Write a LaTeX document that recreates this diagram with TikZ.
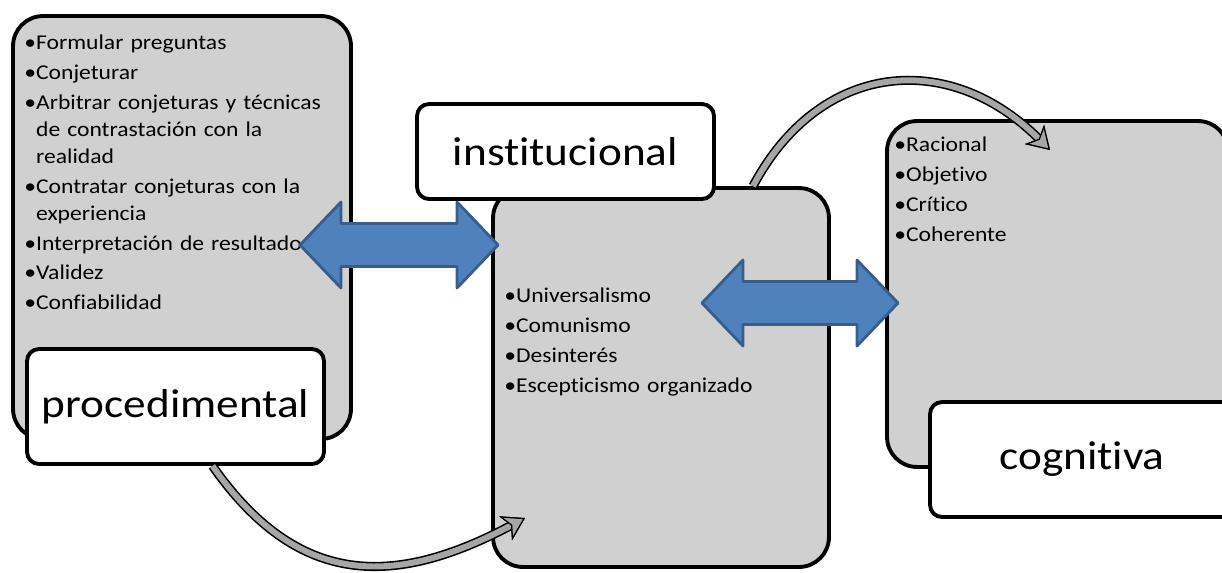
\documentclass[tikz,border=0pt]{standalone}
\usepackage{fontspec}
\setmainfont{Carlito}[FakeStretch=1.12, Ligatures=NoCommon]
\usetikzlibrary{arrows.meta,calc}
\definecolor{boxgray}{HTML}{D0D0D0}
\definecolor{arrowblue}{HTML}{4F81BD}
\definecolor{arrowedge}{HTML}{385D8A}
\definecolor{curvegray}{HTML}{A6A6A6}
\setlength{\parindent}{0pt}

% two-headed block arrow between two named points (same height)
\newcommand{\dblarrow}[2]{%
  \draw[dblarr] let \p1=(#1), \p2=(#2) in
    (\x1,\y1) -- (\x1+0.82cm,\y1+0.86cm) -- (\x1+0.82cm,\y1+0.43cm)
    -- (\x2-0.82cm,\y1+0.43cm) -- (\x2-0.82cm,\y1+0.86cm) -- (\x2,\y1)
    -- (\x2-0.82cm,\y1-0.86cm) -- (\x2-0.82cm,\y1-0.43cm)
    -- (\x1+0.82cm,\y1-0.43cm) -- (\x1+0.82cm,\y1-0.86cm) -- cycle;}

\begin{document}
\begin{tikzpicture}[x=0.02cm, y=-0.02cm,
  graybox/.style={rectangle, draw, line width=2.2pt, rounded corners=0.6cm, fill=boxgray},
  labelbox/.style={rectangle, draw, line width=2.2pt, rounded corners=0.24cm, fill=white, font=\fontsize{23}{27}\selectfont},
  listtxt/.style={anchor=north west, inner sep=0pt, text width=7cm, align=left, font=\fontsize{12}{15.3}\selectfont},
  curvarr/.style={draw=curvegray, line width=3.4pt, preaction={draw=black, line width=5.2pt},
    -{Stealth[length=12.5pt, width=15.5pt, inset=3.5pt, fill=curvegray, color=black, line width=0.7pt]}},
  dblarr/.style={draw=arrowedge, fill=arrowblue, line width=1.6pt, line join=round}
]
  \useasboundingbox (0,0) rectangle (1222,572);
  \clip (0,0) rectangle (1222,572);

  % big grey panels
  \node[graybox, minimum width=6.76cm, minimum height=8.46cm] (procpanel) at (182,227.5) {};
  \node[graybox, minimum width=6.82cm, minimum height=6.92cm] (cogpanel) at (1057.5,294) {};
  \node[graybox, minimum width=6.72cm, minimum height=7.58cm] (instpanel) at (661,377.5) {};
  \node[labelbox, minimum width=5.94cm, minimum height=1.9cm] (inst) at (565.5,151.5) {institucional};

  % lists
  \node[listtxt] (proclist) at (24,35) {%
    •Formular preguntas\\[1.7pt]
    •Conjeturar\\[1.7pt]
    •Arbitrar conjeturas y técnicas\\
    \phantom{•}de contrastación con la\\
    \phantom{•}realidad\\[1.7pt]
    •Contratar conjeturas con la\\
    \phantom{•}experiencia\\[1.7pt]
    •Interpretación de resultados\\[1.7pt]
    •Validez\\[1.7pt]
    •Confiabilidad};
  \node[listtxt] (instlist) at (504,288) {%
    •Universalismo\\[1.7pt]
    •Comunismo\\[1.7pt]
    •Desinterés\\[1.7pt]
    •Escepticismo organizado};
  \node[listtxt] (coglist) at (894,137) {%
    •Racional\\[1.7pt]
    •Objetivo\\[1.7pt]
    •Crítico\\[1.7pt]
    •Coherente};

  \coordinate (a1end) at (525,518);
  \coordinate (a2end) at (1050,150);
  \draw[curvarr] ($(instpanel.north)+(92,0)$) to[out=62, in=135, looseness=1.22] (a2end);

  \node[labelbox, minimum width=5.94cm, minimum height=2.3cm] (proc) at (175.5,406.5) {procedimental};
  \draw[curvarr] ($(proc.south)+(37,0)$) to[out=-55, in=208, looseness=1.2] (a1end);
  \node[labelbox, minimum width=6.08cm, minimum height=2.3cm] (cog) at (1082,459.5) {cognitiva};

  % double arrows
  \coordinate (d1w) at (300,245);
  \coordinate (d1e) at (498,245);
  \coordinate (d2w) at (702,303);
  \coordinate (d2e) at (898,303);
  \dblarrow{d1w}{d1e}
  \dblarrow{d2w}{d2e}
\end{tikzpicture}
\end{document}
